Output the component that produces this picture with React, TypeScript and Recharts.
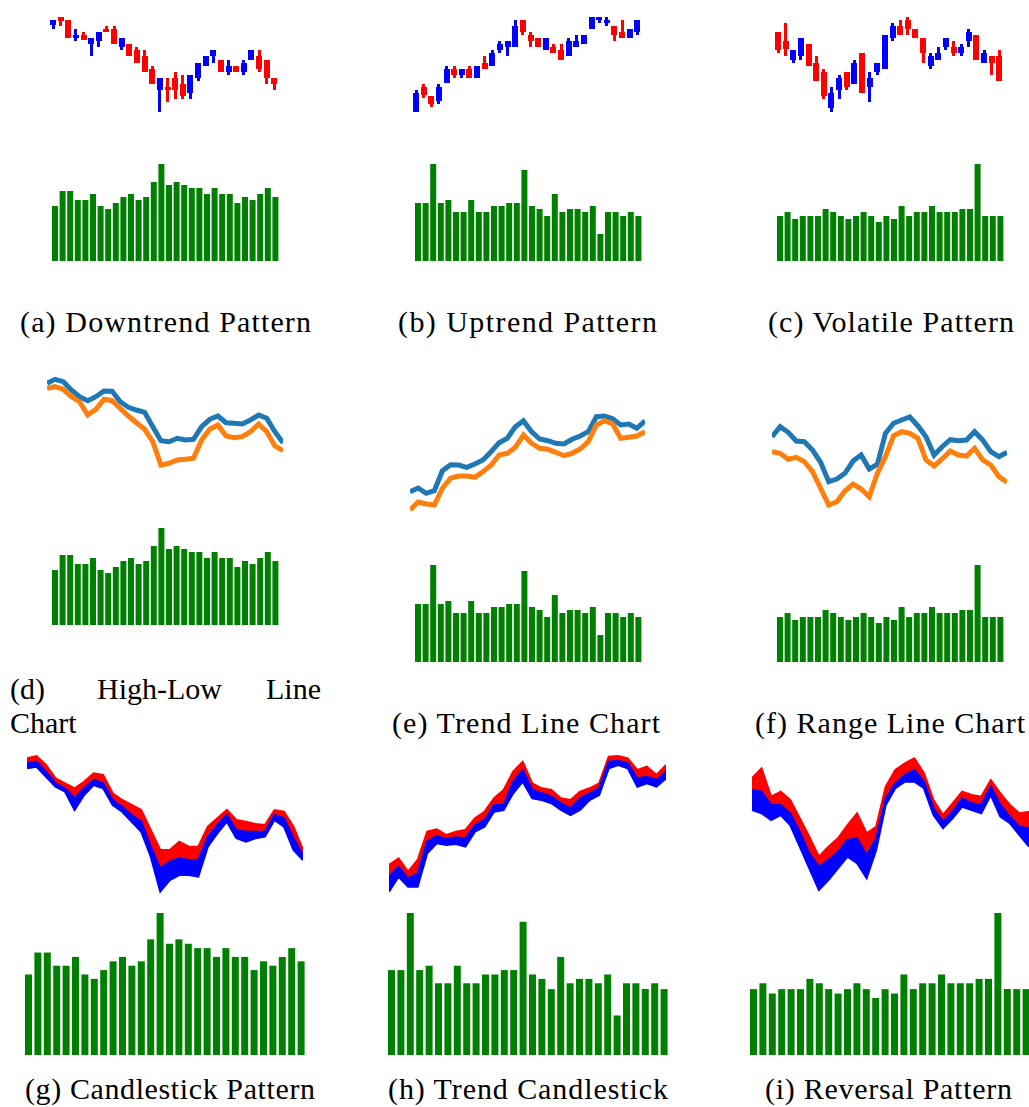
import React from 'react';
import { BarChart, Bar, LineChart, Line, AreaChart, Area, XAxis, YAxis } from 'recharts';

// ---- categories (trading days) ----
const DAYS = Array.from({ length: 30 }, (_, i) => i);

// ---- Dataset A : downtrend ----
const openA = [90, 97.7, 95, 77, 80, 71, 74, 86, 86, 68, 71, 65, 59, 46, 25, 28, 37, 31, 22, 37, 49, 59, 55, 43, 49, 43, 55, 59, 55, 37];
const highA = [95, 98.3, 95, 86, 83, 77, 83, 89, 89, 77, 71, 68, 65, 49, 37, 37, 43, 40, 40, 52, 59, 65, 55, 55, 49, 55, 65, 65, 55, 37];
const lowA = [86, 89, 77, 74, 75, 59, 68, 83, 71, 65, 59, 52, 43, 31, 3.3, 13, 16, 16, 16, 34, 49, 52, 43, 40, 43, 40, 55, 43, 31, 25];
const closeA = [95, 94, 77, 80, 75, 77, 83, 83, 71, 77, 59, 52, 43, 31, 37, 25, 25, 19, 40, 52, 59, 65, 43, 49, 43, 52, 65, 46, 37, 31];
const volA = [165, 210, 210, 183, 183, 201, 165, 156, 174, 192, 201, 183, 192, 237, 291, 228, 237, 228, 219, 219, 201, 219, 201, 201, 174, 192, 183, 201, 219, 192];
const lineHighA = [86.7, 90.7, 88.3, 80, 73.3, 69.3, 73.3, 79, 78.7, 68.3, 62.7, 60, 57.7, 43.3, 29.3, 28.3, 31.7, 30, 30.7, 43.3, 50.7, 54, 47.3, 46.7, 46, 50, 55, 51.7, 38.3, 27.3];
const lineLowA = [81.7, 83.3, 80.7, 73.3, 68.3, 55, 60.7, 70.7, 69.3, 61.7, 54, 47.3, 40.7, 28.3, 5, 6.7, 10, 10.7, 11.7, 30, 40.7, 45, 34, 32.3, 33.3, 38.3, 46, 38.3, 24, 19.3];
const bandTopA = [136.7, 139, 130, 116.7, 111.7, 106.7, 113.3, 121.7, 120, 101.7, 95, 90, 85, 65, 45, 45, 53.3, 48.3, 48.3, 68.3, 76.7, 85, 75, 73.3, 71, 70, 85, 83.3, 68.3, 45];
const bandMidA = [131.7, 133.3, 123.3, 111.7, 106.7, 96.7, 106.7, 115, 111.7, 95, 88.3, 80, 73.3, 48.3, 26.7, 33.3, 36.7, 35, 35, 58.3, 70, 80, 65, 63.3, 63.3, 63.3, 80, 76.7, 56.7, 40];
const bandLowA = [126.7, 128.3, 118.3, 108.3, 103.3, 85, 100, 110, 106.7, 90, 83.3, 73.3, 63.3, 38.3, 3.3, 15, 20, 20, 18.3, 48.3, 61.7, 73.3, 56.7, 53.3, 56.7, 58.3, 75, 68.3, 45, 35];

// ---- Dataset B : uptrend ----
const openB = [3.3, 28, 19, 14, 32, 46, 40, 46, 37, 52, 49, 65, 68, 68, 95, 80, 77, 65, 68, 65, 59, 68, 71, 86, 95, 92, 89, 83, 77, 83];
const highB = [25, 31, 19, 31, 49, 49, 46, 49, 49, 59, 65, 74, 74, 95, 95, 83, 77, 77, 71, 71, 77, 80, 80, 98, 98, 98, 89, 95, 86, 95];
const lowB = [3.3, 17, 8, 11, 32, 37, 37, 37, 37, 46, 49, 62, 59, 68, 80, 68, 68, 65, 62, 55, 59, 68, 71, 86, 92, 89, 74, 77, 77, 80];
const closeB = [21.7, 20, 11, 28, 46, 40, 46, 37, 49, 46, 62, 71, 74, 89, 83, 74, 68, 77, 62, 55, 74, 74, 80, 98, 98, 95, 80, 77, 86, 95];
const volB = [174, 174, 291, 174, 183, 147, 147, 183, 147, 147, 165, 165, 174, 174, 273, 165, 156, 135, 201, 147, 156, 156, 147, 165, 81, 147, 147, 135, 147, 135];
const lineHighB = [28.3, 32, 26.7, 29.3, 49.3, 55.3, 55, 52.7, 56, 60, 68.3, 77.3, 81.7, 93.3, 99.3, 88.3, 81, 79.3, 76.7, 76, 80.7, 84, 88.3, 103.3, 104, 101.3, 95, 96, 91.7, 99.3];
const lineLowB = [10, 18, 16, 15, 31.7, 41.7, 44, 44, 42.7, 48.3, 54.7, 65, 66.7, 72.7, 85, 76.7, 71.7, 70.7, 67.7, 64.3, 66.7, 71, 78.3, 95, 99.3, 96, 81.7, 82.7, 84, 88.3];
const bandTopB = [30, 36.7, 23.3, 35, 63.3, 65.7, 60, 63.3, 65, 76.7, 83.3, 96.7, 105, 123.3, 133.3, 111.7, 106.7, 105, 96.7, 95, 103.3, 106.7, 111.7, 138.3, 139, 136.7, 125, 128.3, 120, 130];
const bandMidB = [18.3, 28.3, 16.7, 21.7, 53.3, 59, 55.7, 57.7, 56.7, 70, 75, 90, 90, 113.3, 125, 105, 101.7, 98.3, 91.7, 86.7, 96.7, 101.7, 106.7, 133.3, 134.3, 131.7, 116.7, 118.3, 115, 123.3];
const bandLowB = [3.3, 18.3, 8.3, 8.3, 41.7, 51.7, 50, 51, 48.3, 63.3, 68.3, 83.3, 85, 101.7, 113.3, 96.7, 95, 91.7, 85, 80, 85, 95, 100, 126.7, 130, 126.7, 108.3, 111.7, 108.3, 116.7];

// ---- Dataset C : volatile ----
const openC = [83, 74, 55, 59, 71, 52, 43, 7, 25, 43, 31, 62, 28, 43, 46, 77, 89, 95, 86, 77, 49, 55, 68, 68, 62, 74, 80, 52, 59, 59];
const highC = [83, 92, 65, 77, 71, 59, 46, 28, 40, 43, 55, 62, 43, 52, 80, 92, 95, 98, 86, 77, 62, 68, 77, 74, 71, 86, 80, 65, 59, 65];
const lowC = [62, 59, 52, 55, 49, 34, 16, 3.3, 16, 25, 31, 22, 13, 40, 46, 74, 80, 80, 77, 52, 46, 55, 65, 59, 59, 68, 55, 52, 40, 34];
const closeC = [65, 66, 65, 77, 49, 34, 19, 22, 37, 28, 52, 22, 37, 52, 80, 89, 80, 86, 77, 62, 59, 62, 77, 62, 68, 83, 55, 62, 52, 34];
const volC = [135, 147, 126, 135, 135, 135, 156, 147, 135, 126, 135, 147, 135, 117, 135, 126, 165, 135, 147, 147, 165, 147, 147, 147, 156, 156, 291, 135, 135, 135];
const lineHighC = [78.3, 88.3, 82.7, 74, 73.3, 65, 52.7, 33.3, 36, 41.7, 54, 60, 46, 50.7, 81.7, 91.7, 95, 98, 89.3, 78.3, 60, 68.3, 75.3, 74.3, 75, 83.3, 75, 63.3, 58.3, 62.7];
const lineLowC = [63.3, 61.7, 55.7, 57.7, 53.3, 43.3, 26.7, 10, 13.3, 24, 31, 26, 18.3, 41.7, 58.3, 79.3, 83.3, 81.7, 76.7, 55, 49, 56, 64, 60, 59, 66.7, 55, 50, 38.3, 32.7];
const bandTopC = [116.7, 126.7, 98.3, 103.3, 95, 76.7, 58.3, 38.3, 48.3, 56.7, 70, 81.7, 61.7, 68.3, 108.3, 125, 131.7, 136.7, 121.7, 95, 80, 91.7, 103.3, 100, 98.3, 115, 101.7, 90, 81.7, 83.3];
const bandMidC = [105, 103.3, 90, 90, 81.7, 63.3, 41.7, 28.3, 35, 43.3, 55, 56.7, 40, 56.7, 96.7, 111.7, 120, 125, 113.3, 86.7, 73.3, 83.3, 96.7, 91.7, 90, 108.3, 90, 78.3, 68.3, 66.7];
const bandLowC = [85, 81.7, 75, 80, 70, 48.3, 26.7, 5, 15, 26.7, 38.3, 31.7, 16.7, 45, 90, 106.7, 113.3, 113.3, 106.7, 80, 66.7, 76.7, 88.3, 85, 81.7, 100, 78.3, 71.7, 60, 48.3];

// ---- labels ----
const LABELS = {
  a: '(a) Downtrend Pattern',
  b: '(b) Uptrend Pattern',
  c: '(c) Volatile Pattern',
  e: '(e) Trend Line Chart',
  f: '(f) Range Line Chart',
  g: '(g) Candlestick Pattern',
  h: '(h) Trend Candlestick',
  i: '(i) Reversal Pattern',
};
const LABEL_D1 = ['(d)', 'High-Low', 'Line'];
const LABEL_D2 = 'Chart';

const UP = '#0000ff';
const DOWN = '#ff0000';
const VOL = '#008000';
const HIGHC = '#1f77b4';
const LOWC = '#ff7f0e';

type Row = {
  day: number; open: number; high: number; low: number; close: number; volume: number;
  lh: number; ll: number; bt: number; bm: number; bb: number;
};

function makeRows(o: number[], h: number[], l: number[], c: number[], v: number[], lh: number[], ll: number[], bt: number[], bm: number[], bb: number[]): Row[] {
  return DAYS.map((d, i) => ({ day: d, open: o[i], high: h[i], low: l[i], close: c[i], volume: v[i], lh: lh[i], ll: ll[i], bt: bt[i], bm: bm[i], bb: bb[i] }));
}

const rowsA = makeRows(openA, highA, lowA, closeA, volA, lineHighA, lineLowA, bandTopA, bandMidA, bandLowA);
const rowsB = makeRows(openB, highB, lowB, closeB, volB, lineHighB, lineLowB, bandTopB, bandMidB, bandLowB);
const rowsC = makeRows(openC, highC, lowC, closeC, volC, lineHighC, lineLowC, bandTopC, bandMidC, bandLowC);

const Candle = (props: any) => {
  const { x, width, payload } = props;
  let { y, height } = props;
  if (height < 0) { y = y + height; height = -height; }
  const { open, close, high, low } = payload as Row;
  const k = high > low ? height / (high - low) : 0;
  const yOf = (val: number) => y + (high - val) * k;
  const color = close >= open ? UP : DOWN;
  const top = yOf(Math.max(open, close));
  const bot = yOf(Math.min(open, close));
  const cx = x + width / 2;
  return (
    <g shapeRendering="crispEdges">
      <rect x={cx - 1.5} y={y} width={3} height={Math.max(height, 1)} fill={color} />
      <rect x={x} y={top} width={width} height={Math.max(bot - top, 3)} fill={color} />
    </g>
  );
};

type Box = { left: number; top: number; width: number; height: number };

const abs = (b: Box): React.CSSProperties => ({ position: 'absolute', left: b.left, top: b.top, width: b.width, height: b.height });

function CandlePanel({ rows, box, max }: { rows: Row[]; box: Box; max: number }) {
  return (
    <div style={abs(box)}>
      <BarChart width={box.width} height={box.height} data={rows} margin={{ top: 0, right: 0, bottom: 0, left: 0 }} barCategoryGap={0}>
        <XAxis dataKey="day" hide />
        <YAxis hide domain={[0, max]} allowDataOverflow />
        <Bar dataKey={(d: Row) => [d.low, d.high]} barSize={6} isAnimationActive={false} shape={(p: any) => <Candle {...p} />} />
      </BarChart>
    </div>
  );
}

function VolumePanel({ rows, box, barSize }: { rows: Row[]; box: Box; barSize: number }) {
  return (
    <div style={abs(box)}>
      <BarChart width={box.width} height={box.height} data={rows} margin={{ top: 0, right: 0, bottom: 0, left: 0 }} barCategoryGap={0}>
        <XAxis dataKey="day" hide />
        <YAxis hide domain={[0, 'dataMax']} />
        <Bar dataKey="volume" fill={VOL} barSize={barSize} isAnimationActive={false} />
      </BarChart>
    </div>
  );
}

function LinePanel({ rows, box, max }: { rows: Row[]; box: Box; max: number }) {
  return (
    <div style={abs(box)}>
      <LineChart width={box.width} height={box.height} data={rows} margin={{ top: 0, right: 0, bottom: 0, left: 0 }}>
        <XAxis dataKey="day" type="number" domain={[0, DAYS.length - 1]} hide />
        <YAxis hide domain={[0, max]} />
        <Line dataKey="lh" stroke={HIGHC} strokeWidth={5} dot={false} type="linear" isAnimationActive={false} />
        <Line dataKey="ll" stroke={LOWC} strokeWidth={5} dot={false} type="linear" isAnimationActive={false} />
      </LineChart>
    </div>
  );
}

function BandPanel({ rows, box, max }: { rows: Row[]; box: Box; max: number }) {
  return (
    <div style={abs(box)}>
      <AreaChart width={box.width} height={box.height} data={rows} margin={{ top: 0, right: 0, bottom: 0, left: 0 }}>
        <XAxis dataKey="day" type="number" domain={[0, DAYS.length - 1]} hide />
        <YAxis hide domain={[0, max]} />
        <Area dataKey={(d: Row) => [d.bm, d.bt]} type="linear" fill={DOWN} fillOpacity={1} stroke={DOWN} strokeWidth={2} isAnimationActive={false} />
        <Area dataKey={(d: Row) => [d.bb, d.bm]} type="linear" fill={UP} fillOpacity={1} stroke={UP} strokeWidth={2} isAnimationActive={false} />
      </AreaChart>
    </div>
  );
}

const FONT = '"Liberation Serif", serif';

function Label({ x, y, w, text, anchor }: { x: number; y: number; w?: number; text: string; anchor?: 'start' | 'end' }) {
  return (
    <text x={x} y={y} textLength={w} lengthAdjust={w ? 'spacing' : undefined} textAnchor={anchor || 'start'} fontFamily={FONT} fontSize={30} fill="#000">
      {text}
    </text>
  );
}

export default function App() {
  return (
    <div style={{ position: 'absolute', left: 0, top: 0, width: 1029, height: 1107, background: '#fff', overflow: 'hidden' }}>
      {/* Row 1 */}
      <CandlePanel rows={rowsA} box={{ left: 49, top: 10, width: 229, height: 105 }} max={105} />
      <CandlePanel rows={rowsB} box={{ left: 412, top: 10, width: 229, height: 105 }} max={105} />
      <CandlePanel rows={rowsC} box={{ left: 774, top: 10, width: 229, height: 105 }} max={105} />
      <VolumePanel rows={rowsA} box={{ left: 51, top: 164, width: 228, height: 97 }} barSize={6} />
      <VolumePanel rows={rowsB} box={{ left: 414, top: 164, width: 228, height: 97 }} barSize={6} />
      <VolumePanel rows={rowsC} box={{ left: 776, top: 164, width: 228, height: 97 }} barSize={6} />

      {/* Row 2 */}
      <LinePanel rows={rowsA} box={{ left: 47, top: 370, width: 236, height: 100 }} max={100} />
      <LinePanel rows={rowsB} box={{ left: 410, top: 400, width: 235, height: 120 }} max={120} />
      <LinePanel rows={rowsC} box={{ left: 772, top: 405, width: 235, height: 110 }} max={110} />
      <VolumePanel rows={rowsA} box={{ left: 51, top: 528, width: 228, height: 97 }} barSize={6} />
      <VolumePanel rows={rowsB} box={{ left: 414, top: 565, width: 228, height: 97 }} barSize={6} />
      <VolumePanel rows={rowsC} box={{ left: 776, top: 565, width: 228, height: 97 }} barSize={6} />

      {/* Row 3 */}
      <BandPanel rows={rowsA} box={{ left: 27, top: 750, width: 276, height: 145 }} max={145} />
      <BandPanel rows={rowsB} box={{ left: 389, top: 750, width: 277, height: 145 }} max={145} />
      <BandPanel rows={rowsC} box={{ left: 752, top: 750, width: 277, height: 145 }} max={145} />
      <VolumePanel rows={rowsA} box={{ left: 24, top: 913, width: 282, height: 142 }} barSize={7} />
      <VolumePanel rows={rowsB} box={{ left: 387, top: 913, width: 282, height: 142 }} barSize={7} />
      <VolumePanel rows={rowsC} box={{ left: 749, top: 913, width: 282, height: 142 }} barSize={7} />

      <svg width={1029} height={1107} style={{ position: 'absolute', left: 0, top: 0, pointerEvents: 'none' }}>
        <Label x={20} y={332} w={291} text={LABELS.a} />
        <Label x={398} y={332} w={259} text={LABELS.b} />
        <Label x={768} y={332} w={246} text={LABELS.c} />
        <Label x={10} y={699} text={LABEL_D1[0]} />
        <Label x={97} y={699} text={LABEL_D1[1]} />
        <Label x={321} y={699} text={LABEL_D1[2]} anchor="end" />
        <Label x={10} y={733} text={LABEL_D2} />
        <Label x={392} y={733} w={268} text={LABELS.e} />
        <Label x={755} y={733} w={270} text={LABELS.f} />
        <Label x={25} y={1099} w={290} text={LABELS.g} />
        <Label x={388} y={1099} w={280} text={LABELS.h} />
        <Label x={765} y={1099} w={247} text={LABELS.i} />
      </svg>
    </div>
  );
}
